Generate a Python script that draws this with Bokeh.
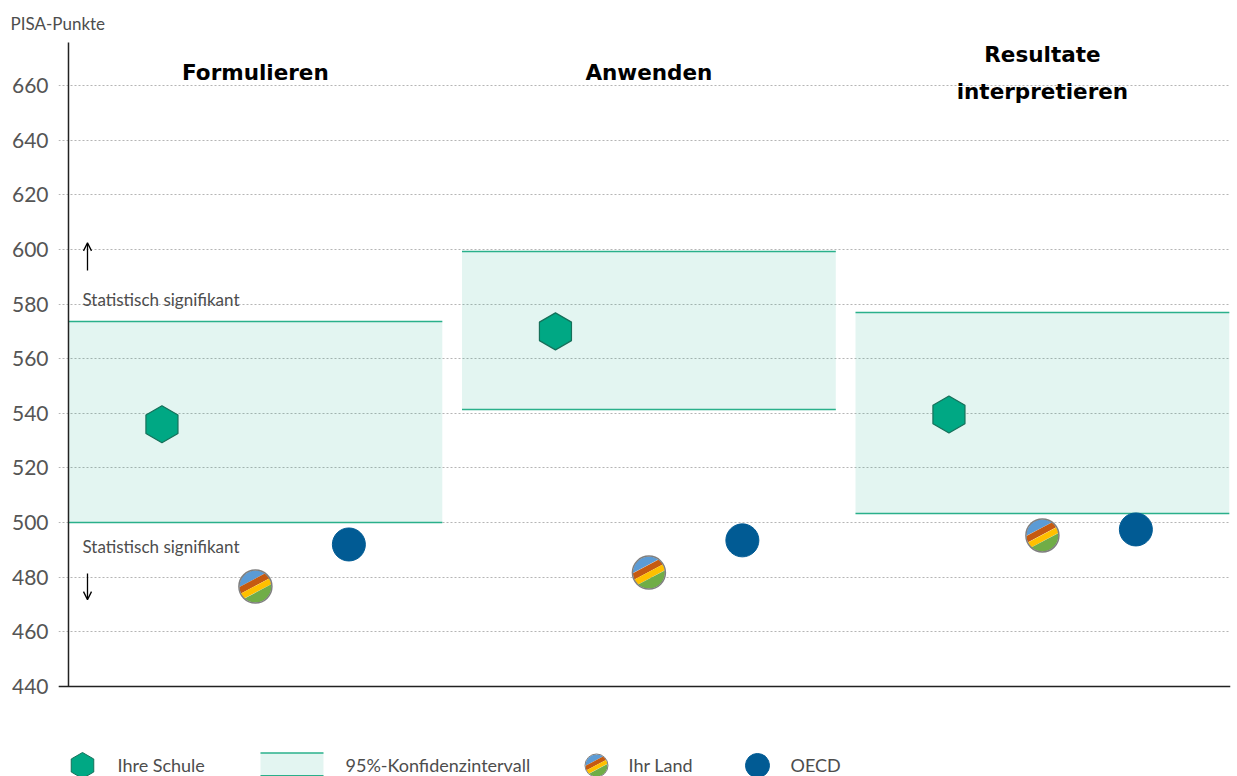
import numpy as np
from bokeh.plotting import figure
from bokeh.models import FixedTicker, Range1d, Span, Arrow, OpenHead, ColumnDataSource
from bokeh.core.properties import value
from bokeh.embed import file_html
from bokeh.resources import INLINE

# ---------------- data ----------------
categories = ["Formulieren", "Anwenden", "Resultate\ninterpretieren"]
school = [536.0, 570.0, 539.6]
ci_low = [500.0, 541.4, 503.3]
ci_high = [573.6, 599.2, 576.9]
country = [476.6, 481.7, 495.3]
oecd = [492.0, 493.5, 497.5]
y_ticks = [440, 460, 480, 500, 520, 540, 560, 580, 600, 620, 640, 660]
legend_labels = ["Ihre Schule", "95%-Konfidenzintervall", "Ihr Land", "OECD"]
sig_label = "Statistisch signifikant"
y_title = "PISA-Punkte"

# ---------------- styling / layout ----------------
FONT = "Lato"
TITLE_FONT = "DejaVu Sans"
TXT = "#4d4d4d"
GREEN = "#00a884"
GREEN_DARK = "#16705a"
BAND_LINE = "#2ab08b"
OECD_C = "#015b94"
STRIPES = ["#5b9bd5", "#c55a11", "#ffc000", "#70ad47"]
STRIPE_T = [-1.0, -0.44, -0.04, 0.34, 1.0]

FW, FH = 1172, 738
X0, X1 = -0.0254, 2.953
Y0, Y1 = 407.07, 677.2
PXX = FW / (X1 - X0)
PXY = FH / (Y1 - Y0)
PW = 0.95  # panel width in x units

n = len(categories)
idx = np.arange(n)
left = idx
right = idx + PW
center = idx + PW / 2
x_school = idx + 0.25 * PW
x_country = idx + 0.5 * PW
x_oecd = idx + 0.75 * PW

p = figure(frame_width=FW, frame_height=FH,
           x_range=Range1d(X0, X1), y_range=Range1d(Y0, Y1),
           output_backend="svg", toolbar_location=None,
           x_axis_location=None, title=y_title,
           min_border_left=58, min_border_right=7,
           min_border_top=38, min_border_bottom=0)
p.outline_line_color = None
p.background_fill_color = "white"

p.title.align = "left"
p.title.offset = -48
p.title.text_font = FONT
p.title.text_font_style = "normal"
p.title.text_font_size = "17px"
p.title.text_color = TXT
p.title.standoff = 10

p.yaxis.ticker = FixedTicker(ticks=y_ticks)
p.yaxis.axis_line_color = None
p.yaxis.major_tick_line_color = None
p.yaxis.minor_tick_line_color = None
p.yaxis.major_label_standoff = 4
p.yaxis.major_label_text_font = FONT
p.yaxis.major_label_text_font_size = "21px"
p.yaxis.major_label_text_color = "#555555"

p.xgrid.visible = False
p.ygrid.ticker = FixedTicker(ticks=y_ticks)
p.ygrid.grid_line_color = "#b5b5b5"
p.ygrid.grid_line_dash = "2 2"
p.ygrid.grid_line_width = 1

# confidence bands
band_src = ColumnDataSource(dict(left=left, right=right, low=ci_low, high=ci_high))
p.quad(left="left", right="right", bottom="low", top="high", source=band_src,
       fill_color=GREEN, fill_alpha=0.11, line_color=None)
p.segment(x0="left", x1="right", y0="high", y1="high", source=band_src,
          line_color=BAND_LINE, line_width=1.5)
p.segment(x0="left", x1="right", y0="low", y1="low", source=band_src,
          line_color=BAND_LINE, line_width=1.5)

# axes lines
p.add_layout(Span(location=y_ticks[0], dimension="width", line_color="#222222", line_width=1.5))
p.segment(x0=[0], x1=[0], y0=[y_ticks[0]], y1=[Y1 - 1.5], line_color="#222222", line_width=1.5)


def striped_circle(cx, cy, r_px):
    xs_all, ys_all, cols = [], [], []
    th = np.linspace(0, 2 * np.pi, 721)[:-1]
    a = np.deg2rad(28)
    nx, ny = np.sin(a), -np.cos(a)
    ux, uy = np.cos(th), np.sin(th)
    t = ux * nx + uy * ny
    for k in range(4):
        m = (t >= STRIPE_T[k]) & (t <= STRIPE_T[k + 1])
        sel = np.where(m)[0]
        if len(sel) < len(th):
            gaps = np.where(~m)[0]
            start = (gaps[-1] + 1) % len(th)
            order = np.roll(np.arange(len(th)), -start)
            sel = [i for i in order if m[i]]
        xs_all.append(list(cx + r_px * ux[sel] / PXX))
        ys_all.append(list(cy + r_px * uy[sel] / PXY))
        cols.append(STRIPES[k])
    return xs_all, ys_all, cols


# country markers (striped)
for cx, cy in zip(x_country, country):
    xs, ys, cols = striped_circle(cx, cy, 16)
    p.patches(xs, ys, fill_color=cols, line_color=None)
p.scatter(x=x_country, y=country, marker="circle", size=33, fill_color=None,
          line_color="#7f7f7f", line_width=1.5)

# OECD
p.scatter(x=x_oecd, y=oecd, marker="circle", size=33, fill_color=OECD_C, line_color=OECD_C)

# school hexagons
p.scatter(x=x_school, y=school, marker="hex", size=37, angle=np.pi / 2,
          fill_color=GREEN, line_color=GREEN_DARK, line_width=1.2)

# panel titles
p.text(x=center, y=[664.6] * n, text=categories, text_align="center", text_baseline="middle",
       text_font=value(TITLE_FONT), text_font_style="bold", text_font_size="21.5px",
       text_color="black", text_line_height=1.5)

# significance labels and arrows
sx = 14 / PXX
p.text(x=[sx, sx], y=[581.7, 491.3], text=[sig_label, sig_label], text_align="left",
       text_baseline="middle", text_font=value(FONT), text_font_size="17px", text_color=TXT)
ax = 19 / PXX
p.add_layout(Arrow(x_start=ax, y_start=592.3, x_end=ax, y_end=602.4, line_width=1.3,
                   line_color="black", end=OpenHead(size=8, line_width=1.3, line_color="black")))
p.add_layout(Arrow(x_start=ax, y_start=481.4, x_end=ax, y_end=471.8, line_width=1.3,
                   line_color="black", end=OpenHead(size=8, line_width=1.3, line_color="black")))

# legend (drawn with glyphs)
LY = 411.1
lx = lambda px: (px - 68) / PXX
p.scatter(x=[lx(82)], y=[LY], marker="hex", size=26, angle=np.pi / 2,
          fill_color=GREEN, line_color=GREEN_DARK, line_width=1)
p.quad(left=[lx(260)], right=[lx(323)], bottom=[LY - 3.8], top=[LY + 4.6],
       fill_color=GREEN, fill_alpha=0.11, line_color=None)
p.segment(x0=[lx(260)] * 2, x1=[lx(323)] * 2, y0=[LY + 4.6, LY - 3.8], y1=[LY + 4.6, LY - 3.8],
          line_color=BAND_LINE, line_width=1.5)
xs, ys, cols = striped_circle(lx(596), LY, 11)
p.patches(xs, ys, fill_color=cols, line_color=None)
p.scatter(x=[lx(596)], y=[LY], marker="circle", size=23, fill_color=None,
          line_color="#7f7f7f", line_width=1)
p.scatter(x=[lx(757)], y=[LY], marker="circle", size=24, fill_color=OECD_C, line_color=OECD_C)
p.text(x=[lx(117), lx(345), lx(628), lx(790)], y=[LY] * 4, text=legend_labels,
       text_align="left", text_baseline="middle", text_font=value(FONT),
       text_font_size="18px", text_color=TXT)

open("out.html", "w").write(file_html(p, INLINE))
